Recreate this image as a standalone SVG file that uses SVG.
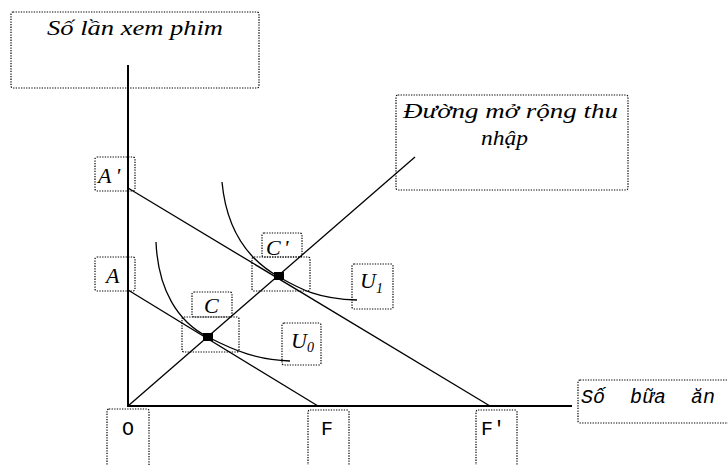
<svg xmlns="http://www.w3.org/2000/svg" width="728" height="465" viewBox="0 0 728 465">
<style>
.box{fill:none;stroke:#000;stroke-width:1.2;stroke-dasharray:1.3 1.3}
.axis{stroke:#000;stroke-width:2;fill:none}
.ln{stroke:#000;stroke-width:1.3;fill:none}
</style>
<rect width="728" height="465" fill="#fff"/>
<g id="connectors">
<line class="axis" x1="128" y1="65" x2="128" y2="406"/>
<line class="axis" x1="127" y1="406" x2="572" y2="406"/>
<line class="ln" x1="128" y1="188" x2="490" y2="406"/>
<line class="ln" x1="128" y1="290" x2="318" y2="406"/>
<line class="ln" x1="128" y1="406" x2="415" y2="157"/>
<path class="ln" d="M156,242 C158,290 178,322 208,337 C235,351 258,360 290,361"/>
<path class="ln" d="M222,182 C226,225 245,258 279,277 C300,289 318,299 357,300"/>
</g>
<g font-family="'Liberation Serif', 'DejaVu Serif', serif" font-style="italic" font-size="22" fill="#000">
<g id="title"><rect class="box" x="11" y="12" width="248" height="76" rx="2"/><text x="47" y="35" textLength="176" lengthAdjust="spacingAndGlyphs">Số lần xem phim</text></g>
<g id="expansion"><rect class="box" x="396" y="95" width="232" height="95" rx="2"/><text x="403" y="118" textLength="215" lengthAdjust="spacingAndGlyphs">Đường mở rộng thu</text><text x="481" y="145" textLength="47" lengthAdjust="spacingAndGlyphs">nhập</text></g>
<g id="Aprime"><rect class="box" x="95" y="157" width="40" height="34" rx="2"/><text x="98" y="183" letter-spacing="4">A'</text></g>
<g id="A"><rect class="box" x="95" y="257" width="40" height="34" rx="2"/><text x="106" y="283">A</text></g>
<g id="C"><rect class="box" x="192" y="292" width="40" height="25" rx="2"/><text x="204" y="313">C</text><rect class="box" x="182" y="317" width="57" height="35" rx="2"/><rect x="203" y="333" width="10" height="8" fill="#000"/></g>
<g id="Cprime"><rect class="box" x="262" y="233" width="40" height="24" rx="2"/><text x="266" y="255" letter-spacing="3">C'</text><rect class="box" x="252" y="257" width="58" height="34" rx="2"/><rect x="274" y="272" width="10" height="8" fill="#000"/></g>
<g id="U0"><rect class="box" x="282" y="323" width="39" height="42" rx="2"/><text x="291" y="348">U<tspan font-size="14" dy="4">0</tspan></text></g>
<g id="U1"><rect class="box" x="352" y="264" width="41" height="45" rx="2"/><text x="360" y="288">U<tspan font-size="14" dy="5">1</tspan></text></g>
</g>
<g font-family="'Liberation Mono', 'DejaVu Sans Mono', monospace" font-size="20" fill="#000">
<g id="O"><rect class="box" x="107" y="409" width="42" height="60" rx="2"/><text x="122" y="435">O</text></g>
<g id="F"><rect class="box" x="308" y="410" width="41" height="60" rx="2"/><text x="321" y="435">F</text></g>
<g id="Fprime"><rect class="box" x="476" y="410" width="41" height="60" rx="2"/><text x="481" y="435">F'</text></g>
<g id="xlabel"><rect class="box" x="578" y="380" width="155" height="43" rx="2"/><text x="581" y="403" font-style="italic" word-spacing="13">Số bữa ăn</text></g>
</g>
</svg>
